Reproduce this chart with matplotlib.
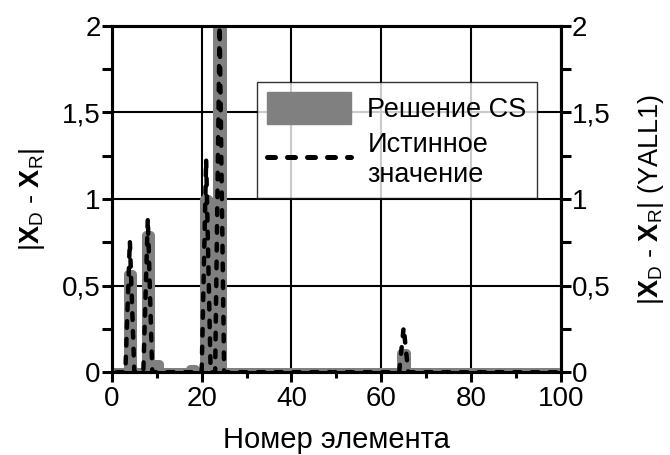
import numpy as np
import matplotlib
matplotlib.use("Agg")
import matplotlib.pyplot as plt
from matplotlib.patches import Patch
from matplotlib.lines import Line2D

plt.rcParams["font.family"] = ["Liberation Sans", "DejaVu Sans"]
plt.rcParams["mathtext.fontset"] = "custom"
plt.rcParams["mathtext.rm"] = "Liberation Sans"
plt.rcParams["mathtext.bf"] = "Liberation Sans:bold"

# -----------------------------
# Data: element numbers and nonzero entries
# -----------------------------
elements = np.arange(1, 101)

cs_idx = [4, 8, 10, 18, 21, 24, 65]
cs_val = [0.57, 0.79, 0.05, 0.02, 1.0, 2.0, 0.11]

true_idx = [4, 8, 21, 24, 65]
true_val = [0.76, 0.89, 1.23, 2.0, 0.26]

y_ticks = [0, 0.5, 1, 1.5, 2]
y_ticklabels = ["0", "0,5", "1", "1,5", "2"]
x_ticks = [0, 20, 40, 60, 80, 100]

cs = np.zeros(len(elements))
cs[np.array(cs_idx) - 1] = cs_val
true = np.zeros(len(elements))
true[np.array(true_idx) - 1] = true_val

ylab = r"$|\mathbf{X}_\mathrm{D}$ - $\mathbf{X}_\mathrm{R}|$"

# -----------------------------
# Plot
# -----------------------------
fig = plt.figure(figsize=(6.7, 4.55), dpi=100)
ax = fig.add_axes([0.167, 0.182, 0.67, 0.761])

ax.plot(elements, cs, color="#808080", lw=6.5, drawstyle="steps-mid",
        solid_capstyle="projecting", zorder=3)
ax.plot(elements, true, color="black", lw=3.2, dashes=(1.5, 2.5),
        dash_capstyle="round", zorder=4)

ax.set_xlim(0, 100)
ax.set_ylim(0, 2)
ax.set_xticks(x_ticks)
ax.set_xticks(np.arange(10, 100, 20), minor=True)
ax.set_yticks(y_ticks)
ax.set_yticklabels(y_ticklabels)
ax.set_yticks(np.arange(0.25, 2, 0.5), minor=True)
ax.grid(True, which="major", color="black", lw=1.5, zorder=0)

for s in ax.spines.values():
    s.set_linewidth(2.2)
ax.tick_params(axis="y", which="major", direction="out", length=7, width=2.2,
               labelsize=20, pad=1)
ax.tick_params(axis="x", which="major", direction="out", length=7, width=2.2,
               labelsize=20, pad=3)
ax.tick_params(axis="y", which="minor", direction="out", length=7, width=2.2)
ax.tick_params(axis="x", which="minor", direction="out", length=4, width=2.2)

ax2 = ax.twinx()
ax2.set_ylim(0, 2)
ax2.set_yticks(y_ticks)
ax2.set_yticklabels(y_ticklabels)
ax2.set_yticks(np.arange(0.25, 2, 0.5), minor=True)
ax2.tick_params(which="both", direction="out", length=7, width=2.2,
                labelsize=20, pad=1)
for s in ax2.spines.values():
    s.set_linewidth(2.2)

ax.set_xlabel("Номер элемента", fontsize=21)
ax.xaxis.set_label_coords(0.5, -0.155)
ax.set_ylabel(ylab, fontsize=19.5, labelpad=11)
ax2.set_ylabel(ylab + " (YALL1)", fontsize=19.5, labelpad=18)

# -----------------------------
# Legend
# -----------------------------
handles = [Patch(facecolor="#808080", edgecolor="#808080"),
           Line2D([0], [0], color="black", lw=3.6, dashes=(1.6, 2.4),
                  dash_capstyle="round")]
leg = ax.legend(handles, ["Решение CS", "Истинное\nзначение"],
                loc="upper left", bbox_to_anchor=(0.323, 0.838),
                fontsize=19.5, frameon=True, fancybox=False,
                handlelength=3.1, handleheight=1.4, borderpad=0.38,
                labelspacing=0.3, handletextpad=0.6, borderaxespad=0)
leg.get_frame().set_edgecolor("black")
leg.get_frame().set_linewidth(1.0)
leg.set_zorder(10)

fig.savefig("out.png", dpi=100)
